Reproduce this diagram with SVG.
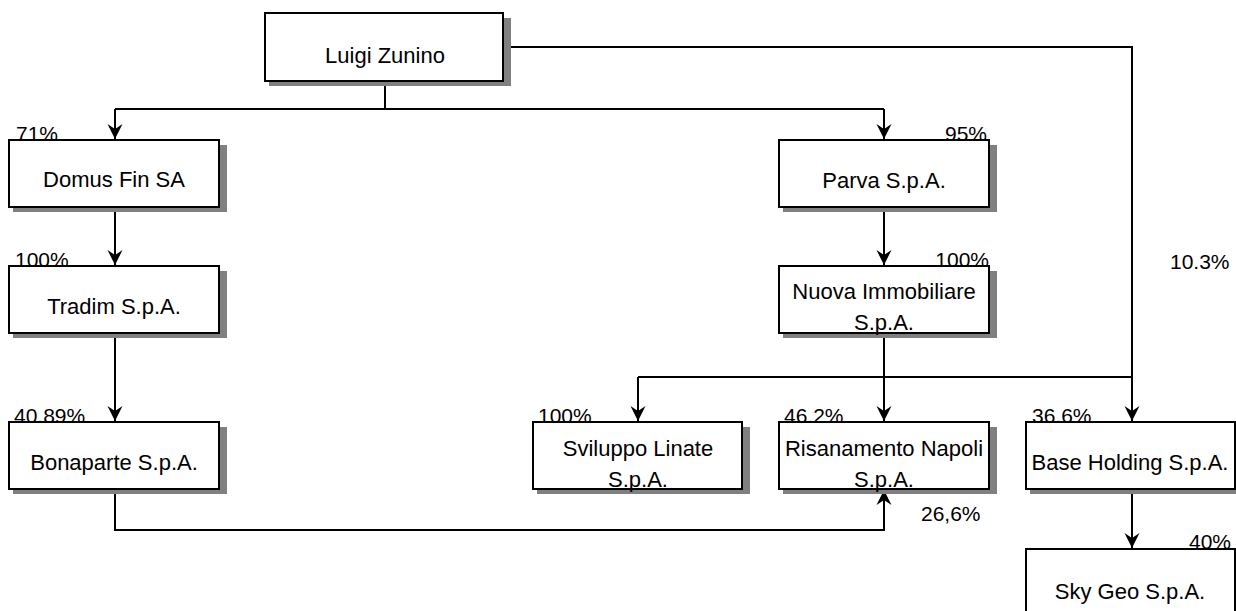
<svg xmlns="http://www.w3.org/2000/svg" width="1236" height="611" viewBox="0 0 1236 611">
<style>
.box{fill:#fff;stroke:#000;stroke-width:2}
.sh{fill:#808080}
.name{font-family:"Liberation Sans",Arial,sans-serif;font-size:22px;fill:#000;text-anchor:middle}
.pct{font-family:"Liberation Sans",Arial,sans-serif;font-size:21px;fill:#000}
.end{text-anchor:end}
.con{fill:none;stroke:#000;stroke-width:2}
</style>
<defs>
<marker id="arr" markerUnits="userSpaceOnUse" markerWidth="16" markerHeight="16" viewBox="0 0 16 16" refX="15" refY="8" orient="auto">
<path d="M15,8 L0,0.5 L5,8 L0,15.5 Z" fill="#000"/>
</marker>
</defs>
<rect width="1236" height="611" fill="#fff"/>
<g id="connectors">
<path class="con" d="M385,81 V109"/>
<path class="con" d="M115,109 H884"/>
<path class="con" d="M115,109 V139" marker-end="url(#arr)"/>
<path class="con" d="M884,109 V139" marker-end="url(#arr)"/>
<path class="con" d="M503,47 H1132 V421" marker-end="url(#arr)"/>
<path class="con" d="M115,207 V265" marker-end="url(#arr)"/>
<path class="con" d="M884,207 V265" marker-end="url(#arr)"/>
<path class="con" d="M115,333 V421" marker-end="url(#arr)"/>
<path class="con" d="M884,333 V421" marker-end="url(#arr)"/>
<path class="con" d="M638,377 H1132"/>
<path class="con" d="M638,377 V421" marker-end="url(#arr)"/>
<path class="con" d="M115,489 V530 H884 V490" marker-end="url(#arr)"/>
<path class="con" d="M1132,489 V548" marker-end="url(#arr)"/>
</g>
<g id="labels">
<text class="pct" x="16" y="141">71%</text>
<text class="pct end" x="987" y="141">95%</text>
<text class="pct" x="15" y="267">100%</text>
<text class="pct end" x="989" y="267">100%</text>
<text class="pct" x="1170" y="269">10.3%</text>
<text class="pct" x="14" y="423">40.89%</text>
<text class="pct" x="538" y="423">100%</text>
<text class="pct" x="784" y="423">46.2%</text>
<text class="pct" x="1032" y="423">36.6%</text>
<text class="pct" x="921" y="521">26,6%</text>
<text class="pct end" x="1231" y="549">40%</text>
</g>
<g id="luigi">
<rect class="sh" x="269" y="18" width="242" height="68"/>
<rect class="box" x="265" y="13" width="238" height="68"/>
<text class="name" x="385" y="63">Luigi Zunino</text>
</g>
<g id="domus">
<rect class="sh" x="13" y="145" width="214" height="67"/>
<rect class="box" x="9" y="140" width="210" height="67"/>
<text class="name" x="114" y="187">Domus Fin SA</text>
</g>
<g id="parva">
<rect class="sh" x="783" y="145" width="214" height="67"/>
<rect class="box" x="779" y="140" width="210" height="67"/>
<text class="name" x="884" y="188">Parva S.p.A.</text>
</g>
<g id="tradim">
<rect class="sh" x="13" y="271" width="214" height="67"/>
<rect class="box" x="9" y="266" width="210" height="67"/>
<text class="name" x="114" y="314">Tradim S.p.A.</text>
</g>
<g id="nuova">
<rect class="sh" x="783" y="271" width="214" height="67"/>
<rect class="box" x="779" y="266" width="210" height="67"/>
<text class="name" x="884" y="299">Nuova Immobiliare</text>
<text class="name" x="884" y="330">S.p.A.</text>
</g>
<g id="bonaparte">
<rect class="sh" x="13" y="427" width="214" height="67"/>
<rect class="box" x="9" y="422" width="210" height="67"/>
<text class="name" x="114" y="470">Bonaparte S.p.A.</text>
</g>
<g id="sviluppo">
<rect class="sh" x="537" y="427" width="213" height="67"/>
<rect class="box" x="533" y="422" width="209" height="67"/>
<text class="name" x="638" y="456">Sviluppo Linate</text>
<text class="name" x="638" y="487">S.p.A.</text>
</g>
<g id="risanamento">
<rect class="sh" x="783" y="427" width="214" height="67"/>
<rect class="box" x="779" y="422" width="210" height="67"/>
<text class="name" x="884" y="456">Risanamento Napoli</text>
<text class="name" x="884" y="487">S.p.A.</text>
</g>
<g id="base">
<rect class="sh" x="1030" y="427" width="213" height="67"/>
<rect class="box" x="1026" y="422" width="209" height="67"/>
<text class="name" x="1130" y="470">Base Holding S.p.A.</text>
</g>
<g id="skygeo">
<rect class="sh" x="1030" y="554" width="213" height="67"/>
<rect class="box" x="1026" y="549" width="209" height="67"/>
<text class="name" x="1130" y="599">Sky Geo S.p.A.</text>
</g>
</svg>
